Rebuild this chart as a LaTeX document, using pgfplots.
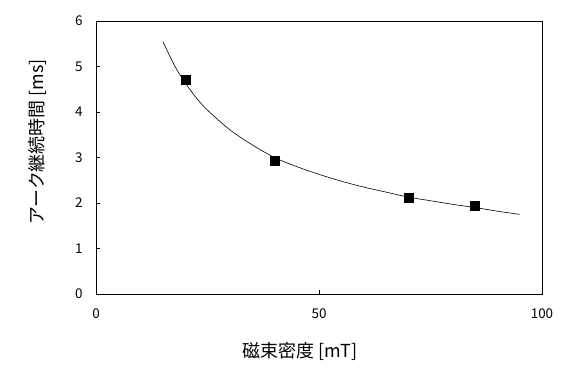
\documentclass[border=0pt]{standalone}
\usepackage{pgfplots}
\pgfplotsset{compat=1.18}
\usepackage{fontspec}
\setmainfont{Noto Sans CJK JP}
\begin{document}
\begin{tikzpicture}[x=1bp,y=1bp]
\path[use as bounding box] (-96,-92) rectangle (481,294);
\begin{axis}[
  at={(0,0)}, anchor=south west,
  scale only axis, width=446bp, height=273bp,
  xmin=0, xmax=100, ymin=0, ymax=6,
  xtick={0,50,100}, ytick={0,1,2,3,4,5,6},
  tick align=inside, major tick length=4bp,
  xtick pos=bottom, ytick pos=left,
  axis line style={line width=0.8bp},
  tick style={line width=0.7bp, black},
  /pgf/number format/assume math mode=true,
  tick label style={font=\fontsize{13.5}{15}\selectfont},
  xticklabel style={yshift=-11bp},
  yticklabel style={xshift=-10bp},
  xlabel={磁束密度 [mT]},
  ylabel={アーク継続時間 [ms]},
  label style={font=\fontsize{18}{20}\selectfont},
  xlabel style={at={(axis description cs:0.457,-0.209)}, anchor=center},
  ylabel style={at={(axis description cs:-0.132,0.557)}, anchor=center, rotate=0},
  clip=false,
]
\addplot[black, line width=0.6bp, smooth] coordinates {
(15,5.55) (17.5,5.04) (20,4.64) (22.5,4.31) (25,4.04) (30,3.61) (35,3.28)
(40,3.00) (45,2.80) (50,2.63) (55,2.48) (60,2.35) (65,2.24) (70,2.13)
(75,2.05) (80,1.97) (85,1.90) (90,1.82) (95,1.75)
};
\addplot[only marks, mark=square*, mark size=4.5bp, black] coordinates {
(20,4.72) (40,2.92) (70,2.12) (85,1.93)
};
\end{axis}
\end{tikzpicture}
\end{document}
